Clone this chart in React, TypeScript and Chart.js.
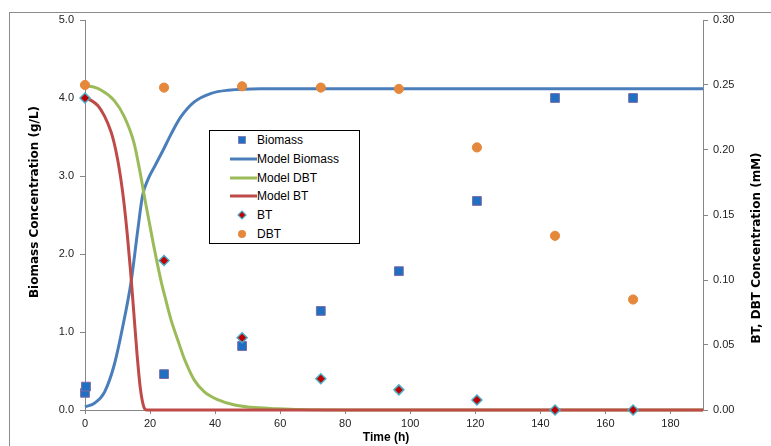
import React, { useEffect, useRef } from 'react';
import { Chart, registerables } from 'chart.js';

Chart.register(...registerables);

// ---- Data ----
const sampleTimes = [0, 24.3, 48.3, 72.5, 96.5, 120.5, 144.5, 168.5];
const biomassTimes = [0, 0.3, 24.3, 48.3, 72.5, 96.5, 120.5, 144.5, 168.5];
const biomassValues = [0.22, 0.3, 0.46, 0.82, 1.27, 1.78, 2.68, 4.0, 4.0];
const btValues = [0.24, 0.115, 0.0556, 0.024, 0.0155, 0.0077, 0, 0];
const dbtValues = [0.25, 0.248, 0.249, 0.248, 0.247, 0.202, 0.134, 0.085];

const modelBiomassTimes = [0, 3, 6, 9, 12, 14.2, 16.2, 17.7, 19.3, 21.5, 24, 26.5, 29.5, 33.6, 38.8, 44, 54, 70, 190];
const modelBiomassValues = [0.04, 0.09, 0.23, 0.58, 1.15, 1.65, 2.3, 2.75, 2.95, 3.13, 3.33, 3.54, 3.76, 3.95, 4.06, 4.1, 4.12, 4.12, 4.12];

const modelDbtTimes = [0, 1, 5, 9, 12, 15, 17, 18.5, 21, 23.4, 24.6, 26.5, 28.5, 30.6, 33.6, 36.7, 40.8, 46, 51, 59, 66, 80, 190];
const modelDbtValues = [0.249, 0.249, 0.246, 0.238, 0.226, 0.206, 0.182, 0.161, 0.128, 0.099, 0.087, 0.069, 0.054, 0.039, 0.023, 0.014, 0.008, 0.0038, 0.0021, 0.001, 0.0003, 0, 0];

const modelBtTimes = [0, 2, 4, 6, 8, 9, 10, 11, 12, 13, 14, 15, 16, 17, 18, 19, 190];
const modelBtValues = [0.24, 0.238, 0.234, 0.226, 0.214, 0.205, 0.193, 0.178, 0.159, 0.135, 0.107, 0.075, 0.043, 0.017, 0.003, 0, 0];

const xTicks = [0, 20, 40, 60, 80, 100, 120, 140, 160, 180];
const leftTicks = [0, 1, 2, 3, 4, 5];
const rightTicks = [0, 0.05, 0.1, 0.15, 0.2, 0.25, 0.3];

const xTitle = 'Time (h)';
const leftTitle = 'Biomass Concentration (g/L)';
const rightTitle = 'BT, DBT Concentration (mM)';

// ---- Styles ----
const C_BIOMASS = '#1f6fc2';
const C_BIOMASS_EDGE = '#7d6aa6';
const C_MODEL_BIOMASS = '#4a7ebb';
const C_MODEL_DBT = '#9bbb59';
const C_MODEL_BT = '#be4b48';
const C_BT = '#c00000';
const C_BT_EDGE = '#4bacc6';
const C_DBT = '#e5883b';
const AXIS = '#868686';
const TICK_FONT = { family: "'Liberation Sans', Arial, sans-serif", size: 11 };

const pts = (xs: number[], ys: number[]) => xs.map((x, i) => ({ x, y: ys[i] }));

const legendItems = [
  { label: 'Biomass', kind: 'square', color: C_BIOMASS, edge: C_BIOMASS_EDGE },
  { label: 'Model Biomass', kind: 'line', color: C_MODEL_BIOMASS, edge: '' },
  { label: 'Model DBT', kind: 'line', color: C_MODEL_DBT, edge: '' },
  { label: 'Model BT', kind: 'line', color: C_MODEL_BT, edge: '' },
  { label: 'BT', kind: 'diamond', color: C_BT, edge: C_BT_EDGE },
  { label: 'DBT', kind: 'circle', color: C_DBT, edge: C_DBT },
];

const titlePlugin = {
  id: 'axisTitlesCustom',
  afterDraw(chart: any) {
    const { ctx, chartArea, scales } = chart;
    const midX = (chartArea.left + chartArea.right) / 2;
    const midY = (chartArea.top + chartArea.bottom) / 2;
    ctx.save();
    ctx.fillStyle = '#000';
    ctx.textAlign = 'center';
    ctx.textBaseline = 'middle';
    ctx.font = "bold 12px 'Liberation Sans', Arial, sans-serif";
    ctx.fillText(xTitle, midX - 8, scales.x.bottom - 8);
    ctx.font = "bold 12px 'DejaVu Sans', sans-serif";
    ctx.save();
    ctx.translate(scales.y.left + 35, midY - 13);
    ctx.rotate(-Math.PI / 2);
    ctx.fillText(leftTitle, 0, 0);
    ctx.restore();
    ctx.save();
    ctx.translate(scales.y2.right - 14, midY + 33);
    ctx.rotate(-Math.PI / 2);
    ctx.fillText(rightTitle, 0, 0);
    ctx.restore();
    ctx.restore();
  },
};

function LegendMarker({ kind, color, edge }: { kind: string; color: string; edge: string }) {
  return (
    <svg width={47} height={18} style={{ display: 'block', flex: '0 0 47px' }}>
      {kind === 'line' && <line x1={20} y1={9} x2={47} y2={9} stroke={color} strokeWidth={3} />}
      {kind === 'square' && <rect x={28.5} y={5.5} width={7} height={7} fill={color} stroke={edge} strokeWidth={0.7} />}
      {kind === 'diamond' && <polygon points="32,5 36,9 32,13 28,9" fill={color} stroke={edge} strokeWidth={1.2} />}
      {kind === 'circle' && <circle cx={32} cy={9} r={4} fill={color} />}
    </svg>
  );
}

export default function App() {
  const canvasRef = useRef<HTMLCanvasElement | null>(null);

  useEffect(() => {
    if (!canvasRef.current) return;
    const chart = new Chart(canvasRef.current, {
      type: 'scatter',
      data: {
        datasets: [
          {
            label: 'Biomass',
            data: pts(biomassTimes, biomassValues),
            yAxisID: 'y',
            pointStyle: 'rect',
            pointRadius: 6.2,
            backgroundColor: C_BIOMASS,
            borderColor: C_BIOMASS_EDGE,
            borderWidth: 1,
            showLine: false,
            order: -1,
            clip: 8,
          },
          {
            label: 'Model Biomass',
            data: pts(modelBiomassTimes, modelBiomassValues),
            yAxisID: 'y',
            showLine: true,
            pointRadius: 0,
            borderColor: C_MODEL_BIOMASS,
            backgroundColor: C_MODEL_BIOMASS,
            borderWidth: 3,
            cubicInterpolationMode: 'monotone',
            order: 3,
            clip: 8,
          },
          {
            label: 'Model DBT',
            data: pts(modelDbtTimes, modelDbtValues),
            yAxisID: 'y2',
            showLine: true,
            pointRadius: 0,
            borderColor: C_MODEL_DBT,
            backgroundColor: C_MODEL_DBT,
            borderWidth: 3,
            cubicInterpolationMode: 'monotone',
            order: 2,
            clip: 8,
          },
          {
            label: 'Model BT',
            data: pts(modelBtTimes, modelBtValues),
            yAxisID: 'y2',
            showLine: true,
            pointRadius: 0,
            borderColor: C_MODEL_BT,
            backgroundColor: C_MODEL_BT,
            borderWidth: 3,
            cubicInterpolationMode: 'monotone',
            order: 1,
            clip: 8,
          },
          {
            label: 'BT',
            data: pts(sampleTimes, btValues),
            yAxisID: 'y2',
            pointStyle: 'rectRot',
            pointRadius: 5,
            backgroundColor: C_BT,
            borderColor: C_BT_EDGE,
            borderWidth: 1.5,
            showLine: false,
            order: -2,
            clip: 8,
          },
          {
            label: 'DBT',
            data: pts(sampleTimes, dbtValues),
            yAxisID: 'y2',
            pointStyle: 'circle',
            pointRadius: 4.6,
            backgroundColor: C_DBT,
            borderColor: C_DBT,
            borderWidth: 1,
            showLine: false,
            order: -3,
            clip: 8,
          },
        ] as any,
      },
      options: {
        animation: false,
        responsive: false,
        devicePixelRatio: 1,
        layout: { padding: { top: 20, left: 0, right: 0, bottom: 0 } },
        plugins: { legend: { display: false }, tooltip: { enabled: false }, title: { display: false } },
        events: [],
        scales: {
          x: {
            type: 'linear',
            min: 0,
            max: 190,
            afterBuildTicks: (s: any) => { s.ticks = xTicks.map((v) => ({ value: v })); },
            afterFit: (s: any) => { s.height = 36; s.paddingLeft = 0; s.paddingRight = 0; },
            ticks: { font: TICK_FONT, color: '#222', padding: 3, maxRotation: 0, autoSkip: false, callback: (v: any) => String(v) },
            grid: { display: true, drawOnChartArea: false, drawTicks: true, tickLength: 4, color: AXIS },
            border: { display: true, color: AXIS, width: 1 },
            title: { display: false },
          },
          y: {
            type: 'linear',
            position: 'left',
            min: 0,
            max: 5,
            afterBuildTicks: (s: any) => { s.ticks = leftTicks.map((v) => ({ value: v })); },
            afterFit: (s: any) => { s.width = 85; s.paddingTop = 0; s.paddingBottom = 0; },
            ticks: { font: TICK_FONT, color: '#222', padding: 6, callback: (v: any) => Number(v).toFixed(1) },
            grid: { display: true, drawOnChartArea: false, drawTicks: true, tickLength: 5, color: AXIS },
            border: { display: true, color: AXIS, width: 1 },
            title: { display: false },
          },
          y2: {
            type: 'linear',
            position: 'right',
            min: 0,
            max: 0.3,
            afterBuildTicks: (s: any) => { s.ticks = rightTicks.map((v) => ({ value: v })); },
            afterFit: (s: any) => { s.width = 68; s.paddingTop = 0; s.paddingBottom = 0; },
            ticks: { font: TICK_FONT, color: '#222', padding: 5, callback: (v: any) => Number(v).toFixed(2) },
            grid: { display: true, drawOnChartArea: false, drawTicks: true, tickLength: 5, color: AXIS },
            border: { display: true, color: AXIS, width: 1 },
            title: { display: false },
          },
        },
      } as any,
      plugins: [titlePlugin],
    });
    return () => chart.destroy();
  }, []);

  return (
    <div style={{ position: 'fixed', left: 0, top: 0, width: 771, height: 446, overflow: 'hidden', background: '#fff' }}>
      <canvas ref={canvasRef} width={771} height={446} style={{ display: 'block', width: 771, height: 446 }} />
      <div
        style={{
          position: 'absolute', left: 9, top: 12, width: 800, height: 500,
          borderLeft: '1px solid #8c8c8c', borderTop: '1px solid #8c8c8c', pointerEvents: 'none',
        }}
      />
      <div
        style={{
          position: 'absolute', left: 209, top: 130, width: 151, height: 114, boxSizing: 'border-box',
          border: '1px solid #000', background: '#fff',
          fontFamily: "'Liberation Sans', Arial, sans-serif", fontSize: 12, color: '#000',
        }}
      >
        {legendItems.map((it) => (
          <div key={it.label} style={{ display: 'flex', alignItems: 'center', height: 18.7, whiteSpace: 'nowrap' }}>
            <LegendMarker kind={it.kind} color={it.color} edge={it.edge} />
            <span style={{ lineHeight: '14px' }}>{it.label}</span>
          </div>
        ))}
      </div>
    </div>
  );
}
